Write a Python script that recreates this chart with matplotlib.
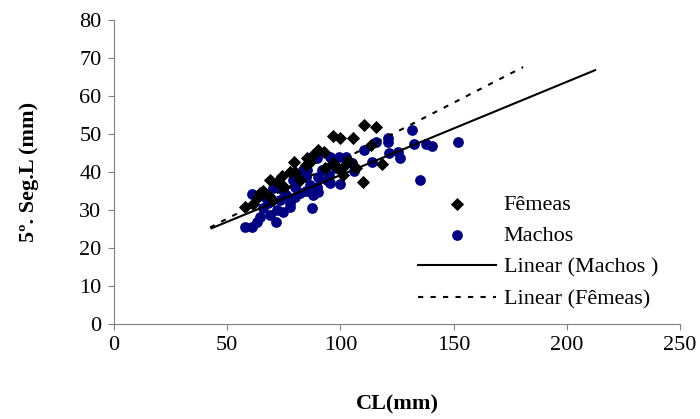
"""
Scatter of 5th segment length against CL for females and males,
with the linear trendlines as drawn in the original chart.
"""

import numpy as np
import matplotlib.pyplot as plt

plt.rcParams['font.family'] = ['Liberation Serif', 'DejaVu Serif']

# females (Fêmeas)
fem_cl = [110.4, 115.7, 96.9, 99.8, 105.7, 113.4, 118.4, 110.1, 90.2, 92.8,
          79.5, 85.1, 84.8, 97.2, 101.0, 101.3, 68.9, 74.1, 71.9, 79.9,
          64.5, 63.7, 57.9, 61.5, 68.9, 70.1, 77.7, 86.6, 96.9, 99.8,
          88.0, 93.0, 75.0, 82.0, 66.0, 104.0, 107.0]
fem_seg = [52.4, 51.8, 49.5, 48.9, 48.9, 47.1, 42.0, 37.4, 45.8, 45.3,
           42.6, 43.6, 41.8, 41.8, 41.4, 39.2, 37.9, 38.9, 37.4, 40.1,
           34.4, 33.5, 30.9, 31.5, 33.5, 32.6, 40.1, 42.7, 42.3, 40.5,
           44.5, 41.0, 36.0, 38.0, 35.0, 43.0, 41.0]

# males (Machos)
mac_cl = [131.5, 121.2, 121.2, 115.7, 110.4, 132.6, 137.8, 140.6, 152.1, 121.6,
          125.6, 126.3, 113.8, 135.2, 89.8, 95.4, 99.5, 102.5, 105.0, 106.0,
          99.8, 95.4, 95.1, 90.2, 89.5, 85.1, 84.8, 79.2, 79.9, 87.3,
          74.8, 70.4, 60.8, 66.7, 68.2, 73.3, 77.7, 79.9, 82.2, 74.8,
          77.7, 68.9, 64.5, 71.6, 63.0, 60.8, 57.9, 88.0, 90.2, 86.6,
          83.6, 92.0, 85.0, 76.0, 72.0, 66.0, 94.0, 98.0]
mac_seg = [51.1, 48.9, 48.0, 47.8, 45.8, 47.4, 47.3, 46.8, 47.8, 44.9,
           45.3, 43.6, 42.6, 37.9, 43.6, 44.0, 43.9, 43.9, 42.3, 40.3,
           36.8, 37.0, 39.2, 38.8, 36.1, 40.5, 38.6, 37.9, 36.1, 30.4,
           35.3, 35.7, 34.2, 33.5, 31.8, 32.6, 31.8, 33.5, 34.4, 29.6,
           30.9, 28.7, 28.2, 26.9, 26.9, 25.6, 25.6, 33.9, 34.8, 36.6,
           40.5, 40.5, 35.0, 34.0, 30.0, 30.5, 38.0, 41.0]

# trendline end points
lin_mac_x = [43.1, 212.5]
lin_mac_y = [25.2, 66.8]
lin_fem_x = [42.4, 180.7]
lin_fem_y = [25.4, 67.6]

fig = plt.figure(figsize=(7, 4.19), dpi=100)
ax = fig.add_axes([114 / 700, 1 - 324 / 419, 566 / 700, 304 / 419])

ax.scatter(fem_cl, fem_seg, marker='D', s=45, color='black',
           linewidths=0, label='Fêmeas', zorder=3)
ax.scatter(mac_cl, mac_seg, marker='o', s=60, color='#000080',
           linewidths=0, label='Machos', zorder=2)
ax.plot(lin_mac_x, lin_mac_y, color='black', lw=1.5,
        label='Linear (Machos )', zorder=4)
ax.plot(lin_fem_x, lin_fem_y, color='black', lw=1.5, ls=(0, (2.5, 3.5)),
        label='Linear (Fêmeas)', zorder=4)

ax.set_xlim(0, 250)
ax.set_ylim(0, 80)
ax.set_xticks(np.arange(0, 251, 50))
ax.set_yticks(np.arange(0, 81, 10))
for s in ['top', 'right']:
    ax.spines[s].set_visible(False)
for s in ['left', 'bottom']:
    ax.spines[s].set_color('#808080')
ax.tick_params(direction='out', length=4, color='#808080',
               labelsize=16, pad=5)

ax.set_xlabel('CL(mm)', fontsize=16, fontweight='bold', labelpad=28)
ax.set_ylabel('5º. Seg.L (mm)', fontsize=16, fontweight='bold', labelpad=29)

ax.legend(loc='upper left', bbox_to_anchor=(418 / 700, 1 - 194 / 419),
          bbox_transform=fig.transFigure, frameon=False, fontsize=16,
          handlelength=3.5, handletextpad=0.36, labelspacing=0.5,
          borderpad=0, borderaxespad=0)

plt.savefig('out.png', dpi=100)
